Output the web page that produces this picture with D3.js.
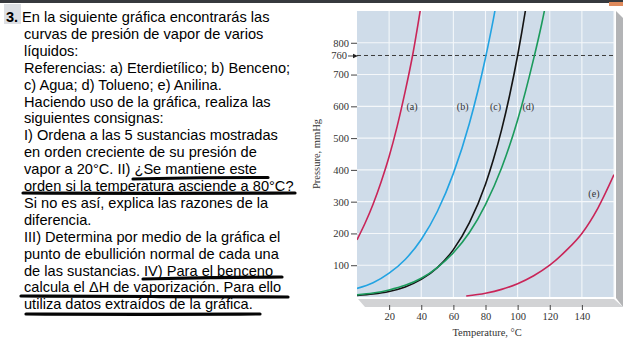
<!DOCTYPE html>
<html>
<head>
<meta charset="utf-8">
<script src="https://cdn.jsdelivr.net/npm/d3@7/dist/d3.min.js"></script>
<style>
  html, body { margin: 0; padding: 0; background: #fff; }
  svg { display: block; }
</style>
</head>
<body>
<svg id="page" width="623" height="339"></svg>
<script>
// Exercise text, one entry per printed line
const questionLines = [
  "En la siguiente gráfica encontrarás las",
  "curvas de presión de vapor de varios",
  "líquidos:",
  "Referencias: a) Eterdietílico; b) Benceno;",
  "c) Agua; d) Tolueno; e) Anilina.",
  "Haciendo uso de la gráfica, realiza las",
  "siguientes consignas:",
  "I) Ordena a las 5 sustancias mostradas",
  "en orden creciente de su presión de",
  "vapor a 20°C. II) ¿Se mantiene este",
  "orden si la temperatura asciende a 80°C?",
  "Si no es así, explica las razones de la",
  "diferencia.",
  "III) Determina por medio de la gráfica el",
  "punto de ebullición normal de cada una",
  "de las sustancias. IV) Para el benceno",
  "calcula el ΔH de vaporización. Para ello",
  "utiliza datos extraídos de la gráfica."
];

// Axis ticks
const tempTicks = [20, 40, 60, 80, 100, 120, 140];
const pressureTicks = [100, 200, 300, 400, 500, 600, 700, 800];
const normalPressure = 760;

// Vapour pressure curves: [temperature °C, pressure mmHg]
const etherData   = [[0,180],[5,232],[10,292],[15,362],[20,442],[25,537],[30,647],[34.6,760],[40,921]];
const benzeneData = [[0,27],[10,45],[20,75],[30,118],[40,181],[50,269],[60,389],[70,547],[80,753],[85,877],[90,1013]];
const waterData   = [[0,4.6],[10,9.2],[20,17.5],[30,31.8],[40,55.3],[50,92.5],[60,149],[70,234],[80,355],[85,434],[90,526],[95,634],[100,760],[105,906],[110,1075]];
const tolueneData = [[0,6.8],[10,12.6],[20,22.3],[30,36.7],[40,59.1],[50,92.6],[60,139.5],[70,203],[80,291],[90,406],[100,557],[110,750],[115,860],[120,985]];
const anilineData = [[68,3],[80,12],[90,24],[100,42],[110,67],[120,100],[130,145],[140,200],[150,280],[160,385]];

const curves = [
  { key: "(a)", data: etherData,   color: "#c92558", label: [34.2, 600] },
  { key: "(b)", data: benzeneData, color: "#22a3e2", label: [65.8, 600] },
  { key: "(c)", data: waterData,   color: "#141414", label: [86.2, 600] },
  { key: "(d)", data: tolueneData, color: "#1b9a5c", label: [106.6, 600] },
  { key: "(e)", data: anilineData, color: "#c92558", label: [147.5, 325] }
];

const svg = d3.select("#page");

// Browser chrome strip along the top
svg.append("rect").attr("x", 0).attr("y", 0).attr("width", 623).attr("height", 3).attr("fill", "#36393e");
svg.append("rect").attr("x", 609).attr("y", 2).attr("width", 14).attr("height", 4).attr("fill", "#df8a5c");

// ---- Question text ----
const textG = svg.append("g").attr("font-family", "'Liberation Sans', Arial, sans-serif").attr("font-size", 14.6).attr("fill", "#000");
textG.append("rect").attr("x", 4).attr("y", 4).attr("width", 17).attr("height", 20).attr("fill", "#dcdfe4");
textG.append("text").attr("x", 6).attr("y", 22).attr("font-weight", "bold").text("3.");
textG.selectAll("text.q").data(questionLines).join("text")
  .attr("class", "q")
  .attr("x", (d, i) => i === 0 ? 22 : 24)
  .attr("y", (d, i) => 22 + i * 16.9)
  .text(d => d);

// Hand-drawn underline strokes
const strokes = [
  [[133,179],[200,177.5],[268,177.5]],
  [[23,193],[160,193.5],[295,193]],
  [[143,279],[210,277.5],[282,277]],
  [[21,296],[150,296.5],[288,297]],
  [[26,314],[140,314.5],[260,314]]
];
svg.append("g").selectAll("path").data(strokes).join("path")
  .attr("d", d3.line().curve(d3.curveBasis))
  .attr("fill", "none").attr("stroke", "#050505").attr("stroke-width", 3.2).attr("stroke-linecap", "round");

// ---- Chart ----
const plot = { left: 357, right: 614, top: 11, bottom: 297 };
const x = d3.scaleLinear().domain([0, 160]).range([plot.left, plot.right]);
const y = d3.scaleLinear().domain([0, 900]).range([plot.bottom, plot.top]);

const chart = svg.append("g");

// 3D floor and right wall
chart.append("polygon")
  .attr("points", [[plot.left + 1, plot.bottom + 2], [plot.right, plot.bottom + 2], [623, 307], [plot.left + 8, 307]].join(" "))
  .attr("fill", "#d2d3d5");
chart.append("polygon")
  .attr("points", [[plot.right + 2, plot.top], [623, plot.top + 7], [623, 307], [plot.right + 2, plot.bottom + 1]].join(" "))
  .attr("fill", "#b3b4b6");

chart.append("rect")
  .attr("x", plot.left).attr("y", plot.top)
  .attr("width", plot.right - plot.left).attr("height", plot.bottom - plot.top)
  .attr("fill", "#cfdce9");

// Grid
chart.append("g").selectAll("line").data(tempTicks.concat([160])).join("line")
  .attr("x1", d => x(d)).attr("x2", d => x(d))
  .attr("y1", plot.top).attr("y2", plot.bottom)
  .attr("stroke", "#f4f7fa").attr("stroke-width", 1.1);
chart.append("g").selectAll("line").data(pressureTicks).join("line")
  .attr("x1", plot.left).attr("x2", plot.right)
  .attr("y1", d => y(d)).attr("y2", d => y(d))
  .attr("stroke", "#f4f7fa").attr("stroke-width", 1.1);

// Normal pressure reference line
chart.append("line")
  .attr("x1", plot.left).attr("x2", plot.right)
  .attr("y1", y(normalPressure)).attr("y2", y(normalPressure))
  .attr("stroke", "#3c3c3c").attr("stroke-width", 1).attr("stroke-dasharray", "4,3");

// Curves
const clipId = "plotClip";
svg.append("defs").append("clipPath").attr("id", clipId)
  .append("rect").attr("x", plot.left).attr("y", plot.top)
  .attr("width", plot.right - plot.left).attr("height", plot.bottom - plot.top);

const line = d3.line().x(d => x(d[0])).y(d => y(d[1])).curve(d3.curveMonotoneX);
chart.append("g").attr("clip-path", `url(#${clipId})`)
  .selectAll("path").data(curves).join("path")
  .attr("d", d => line(d.data))
  .attr("fill", "none").attr("stroke", d => d.color).attr("stroke-width", 1.6);

// Curve labels
chart.append("g").attr("font-family", "'Liberation Serif', 'Times New Roman', serif").attr("font-size", 10).attr("fill", "#333")
  .selectAll("text").data(curves).join("text")
  .attr("x", d => x(d.label[0])).attr("y", d => y(d.label[1]))
  .attr("text-anchor", "middle").attr("dy", "0.35em")
  .text(d => d.key);

// Y axis
const yAxis = d3.axisLeft(y).tickValues(pressureTicks.concat([normalPressure])).tickSize(6).tickPadding(2)
  .tickFormat(d3.format("d"));
const yg = chart.append("g").attr("transform", `translate(${plot.left},0)`).call(yAxis);
yg.select(".domain").remove();
yg.selectAll(".tick line").attr("stroke", "#444");
yg.selectAll(".tick text").attr("font-family", "'Liberation Serif', 'Times New Roman', serif").attr("font-size", 10.5).attr("fill", "#333");
// Arrow on the 760 tick
yg.selectAll(".tick").filter(d => d === normalPressure).each(function () {
  const t = d3.select(this);
  t.select("line").attr("x2", -9).attr("x1", -3);
  t.select("text").attr("x", -10);
  t.append("path").attr("d", "M-4,-2.2 L1,0 L-4,2.2 Z").attr("fill", "#222");
});

// X axis, below the floor
const xAxis = d3.axisBottom(x).tickValues(tempTicks).tickSize(5).tickPadding(3).tickFormat(d3.format("d"));
const xg = chart.append("g").attr("transform", `translate(0,305)`).call(xAxis);
xg.select(".domain").remove();
xg.selectAll(".tick line").attr("stroke", "#444");
xg.selectAll(".tick text").attr("font-family", "'Liberation Serif', 'Times New Roman', serif").attr("font-size", 10.5).attr("fill", "#333");

// Axis titles
chart.append("text")
  .attr("x", x(81)).attr("y", 336)
  .attr("text-anchor", "middle")
  .attr("font-family", "'Liberation Serif', 'Times New Roman', serif").attr("font-size", 10.5).attr("fill", "#333")
  .text("Temperature, °C");
chart.append("text")
  .attr("transform", `translate(320,${y(450)}) rotate(-90)`)
  .attr("text-anchor", "middle")
  .attr("font-family", "'Liberation Serif', 'Times New Roman', serif").attr("font-size", 10.5).attr("fill", "#333")
  .text("Pressure, mmHg");
</script>
</body>
</html>
